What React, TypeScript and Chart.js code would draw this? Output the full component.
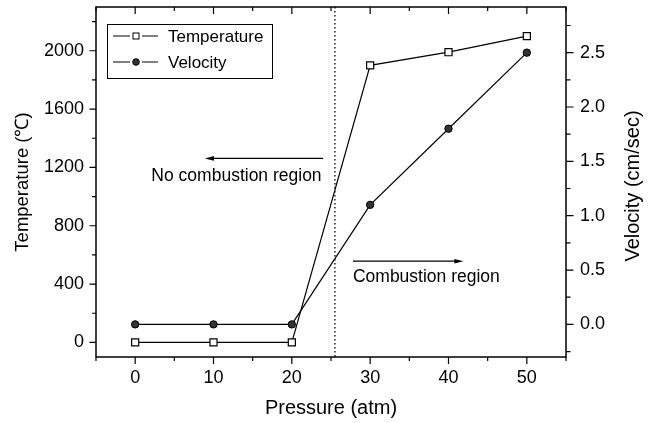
import React, { useEffect, useRef } from 'react';
import { Chart, registerables } from 'chart.js';

Chart.register(...registerables);

// ---- data ----
const pressure = [0, 10, 20, 30, 40, 50];
const temperature = [0, 0, 0, 1900, 1990, 2100];
const velocity = [0, 0, 0, 1.1, 1.8, 2.5];

// ---- tick labels ----
const xTickValues = [0, 10, 20, 30, 40, 50];
const tempTickValues = [0, 400, 800, 1200, 1600, 2000];
const velTickValues = [0, 0.5, 1.0, 1.5, 2.0, 2.5];

// ---- axis titles ----
const xTitle = 'Pressure (atm)';
const yTitle = 'Temperature (℃)';
const y1Title = 'Velocity (cm/sec)';

// ---- annotations (data coordinates) ----
const dividerPressure = 25.5;
const noCombText = 'No combustion region';
const noCombArrowFrom = 24.0;
const noCombArrowTo = 8.9;
const noCombArrowTemp = 1262;
const noCombTextRight = 23.8;
const noCombTextTemp = 1141;
const combText = 'Combustion region';
const combArrowFrom = 27.8;
const combArrowTo = 41.9;
const combArrowTemp = 557;
const combTextLeft = 27.8;
const combTextTemp = 447;

const FONT = '"Liberation Sans", Arial, Helvetica, sans-serif';

function tickSet(scale: any, majors: number[]) {
  const step = (majors[1] - majors[0]) / 2;
  const out: { v: number; major: boolean }[] = [];
  let v = majors[0];
  while (v - step >= scale.min - 1e-9) v -= step;
  for (; v <= scale.max + 1e-9; v += step) {
    const major = majors.some((m) => Math.abs(m - v) < step / 100);
    out.push({ v, major });
  }
  return out;
}

function arrow(ctx: CanvasRenderingContext2D, x1: number, x2: number, y: number) {
  const dir = Math.sign(x2 - x1);
  const headLen = 9;
  const headHalf = 2.3;
  ctx.beginPath();
  ctx.moveTo(x1, y);
  ctx.lineTo(x2 - dir * headLen * 0.6, y);
  ctx.stroke();
  ctx.beginPath();
  ctx.moveTo(x2, y);
  ctx.lineTo(x2 - dir * headLen, y - headHalf);
  ctx.lineTo(x2 - dir * headLen, y + headHalf);
  ctx.closePath();
  ctx.fill();
}

const decorPlugin = {
  id: 'decor',
  afterDraw(chart: any) {
    const ctx: CanvasRenderingContext2D = chart.ctx;
    const { left, right, top, bottom } = chart.chartArea;
    const xs = chart.scales.x;
    const ys = chart.scales.y;
    const y1 = chart.scales.y1;
    ctx.save();
    ctx.strokeStyle = '#000';
    ctx.fillStyle = '#000';

    // frame
    ctx.lineWidth = 1.5;
    ctx.strokeRect(left, top, right - left, bottom - top);

    // ticks
    ctx.lineWidth = 1.2;
    ctx.beginPath();
    for (const t of tickSet(xs, xTickValues)) {
      const px = xs.getPixelForValue(t.v);
      const len = t.major ? 7 : 4;
      ctx.moveTo(px, bottom);
      ctx.lineTo(px, bottom + len);
      ctx.moveTo(px, top);
      ctx.lineTo(px, top + len);
    }
    for (const t of tickSet(ys, tempTickValues)) {
      const py = ys.getPixelForValue(t.v);
      const len = t.major ? 6.5 : 4;
      ctx.moveTo(left, py);
      ctx.lineTo(left - len, py);
    }
    for (const t of tickSet(y1, velTickValues)) {
      const py = y1.getPixelForValue(t.v);
      const len = t.major ? 7.5 : 4.5;
      ctx.moveTo(right, py);
      ctx.lineTo(right + len, py);
    }
    ctx.stroke();

    // dotted divider
    const dx = xs.getPixelForValue(dividerPressure);
    ctx.lineWidth = 1.3;
    ctx.setLineDash([1.5, 2.5]);
    ctx.beginPath();
    ctx.moveTo(dx, top);
    ctx.lineTo(dx, bottom);
    ctx.stroke();
    ctx.setLineDash([]);

    // arrows
    ctx.lineWidth = 1.3;
    arrow(ctx, xs.getPixelForValue(noCombArrowFrom), xs.getPixelForValue(noCombArrowTo), ys.getPixelForValue(noCombArrowTemp));
    arrow(ctx, xs.getPixelForValue(combArrowFrom), xs.getPixelForValue(combArrowTo), ys.getPixelForValue(combArrowTemp));

    // annotation texts
    ctx.font = `17.5px ${FONT}`;
    ctx.textBaseline = 'middle';
    ctx.textAlign = 'right';
    ctx.fillText(noCombText, xs.getPixelForValue(noCombTextRight), ys.getPixelForValue(noCombTextTemp));
    ctx.textAlign = 'left';
    ctx.fillText(combText, xs.getPixelForValue(combTextLeft), ys.getPixelForValue(combTextTemp));

    // right axis title (reads bottom to top, like the left one)
    ctx.save();
    ctx.font = `20px ${FONT}`;
    ctx.textAlign = 'center';
    ctx.textBaseline = 'middle';
    ctx.translate(right + 67, (top + bottom) / 2 + 4);
    ctx.rotate(-Math.PI / 2);
    ctx.fillText(y1Title, 0, 0);
    ctx.restore();

    // legend
    const bx = left + 11;
    const by = top + 17;
    const bw = 165;
    const bh = 54;
    ctx.lineWidth = 1;
    ctx.strokeRect(bx + 0.5, by + 0.5, bw, bh);
    const rows = chart.data.datasets.map((ds: any, i: number) => ({ ds, y: by + 12 + i * 26 }));
    ctx.font = `17px ${FONT}`;
    ctx.textAlign = 'left';
    ctx.textBaseline = 'middle';
    for (const { ds, y } of rows) {
      const lx1 = bx + 6;
      const lx2 = bx + 51;
      const mx = bx + 29;
      ctx.lineWidth = 1;
      ctx.beginPath();
      ctx.moveTo(lx1, y);
      ctx.lineTo(mx - 6, y);
      ctx.moveTo(mx + 6, y);
      ctx.lineTo(lx2, y);
      ctx.stroke();
      if (ds.pointStyle === 'rect') {
        ctx.fillStyle = '#fff';
        ctx.fillRect(mx - 3, y - 3, 6, 6);
        ctx.strokeRect(mx - 3, y - 3, 6, 6);
      } else {
        ctx.fillStyle = ds.pointBackgroundColor;
        ctx.beginPath();
        ctx.arc(mx, y, 3.3, 0, Math.PI * 2);
        ctx.fill();
        ctx.stroke();
      }
      ctx.fillStyle = '#000';
      ctx.fillText(ds.label, bx + 61, y + 1);
    }
    ctx.restore();
  },
};

export default function App() {
  const canvasRef = useRef<HTMLCanvasElement | null>(null);

  useEffect(() => {
    document.body.style.margin = '0';
    const canvas = canvasRef.current;
    if (!canvas) return;
    const tickFont = { family: FONT, size: 18 };
    const zeroPad = (s: any) => {
      s.paddingTop = 0;
      s.paddingBottom = 0;
      s.paddingLeft = 0;
      s.paddingRight = 0;
    };
    const chart = new Chart(canvas, {
      type: 'line',
      data: {
        datasets: [
          {
            label: 'Temperature',
            data: pressure.map((p, i) => ({ x: p, y: temperature[i] })),
            yAxisID: 'y',
            borderColor: '#000',
            borderWidth: 1.2,
            pointStyle: 'rect',
            pointRadius: 5,
            pointBackgroundColor: '#fff',
            pointBorderColor: '#000',
            pointBorderWidth: 1.2,
            tension: 0,
          },
          {
            label: 'Velocity',
            data: pressure.map((p, i) => ({ x: p, y: velocity[i] })),
            yAxisID: 'y1',
            borderColor: '#000',
            borderWidth: 1.2,
            pointStyle: 'circle',
            pointRadius: 3.7,
            pointBackgroundColor: '#333',
            pointBorderColor: '#000',
            pointBorderWidth: 1,
            tension: 0,
          },
        ],
      },
      options: {
        animation: false,
        responsive: true,
        maintainAspectRatio: false,
        layout: { padding: { top: 7, left: 0, right: 0, bottom: 0 } },
        plugins: { legend: { display: false }, tooltip: { enabled: false } },
        scales: {
          x: {
            type: 'linear',
            position: 'bottom',
            min: -5,
            max: 55,
            grid: { display: false, drawTicks: false },
            border: { display: false },
            afterBuildTicks: (s: any) => {
              s.ticks = xTickValues.map((v) => ({ value: v }));
            },
            afterFit: (s: any) => {
              s.height = 66;
              zeroPad(s);
            },
            ticks: {
              font: tickFont,
              color: '#000',
              padding: 10,
              maxRotation: 0,
              autoSkip: false,
              callback: (v: any) => String(v),
            },
            title: {
              display: true,
              text: xTitle,
              font: { family: FONT, size: 20 },
              color: '#000',
              padding: { top: 0, bottom: 3 },
            },
          },
          y: {
            type: 'linear',
            position: 'left',
            min: -100,
            max: 2300,
            grid: { display: false, drawTicks: false },
            border: { display: false },
            afterBuildTicks: (s: any) => {
              s.ticks = tempTickValues.map((v) => ({ value: v }));
            },
            afterFit: (s: any) => {
              s.width = 96;
              zeroPad(s);
            },
            ticks: {
              font: tickFont,
              color: '#000',
              padding: 12,
              autoSkip: false,
              callback: (v: any) => String(v),
            },
            title: {
              display: true,
              text: yTitle,
              font: { family: FONT, size: 18.5 },
              color: '#000',
              padding: { top: 12, bottom: 0 },
            },
          },
          y1: {
            type: 'linear',
            position: 'right',
            min: -0.3,
            max: 2.92,
            grid: { display: false, drawTicks: false },
            border: { display: false },
            afterBuildTicks: (s: any) => {
              s.ticks = velTickValues.map((v) => ({ value: v }));
            },
            afterFit: (s: any) => {
              s.width = 85;
              zeroPad(s);
            },
            ticks: {
              font: tickFont,
              color: '#000',
              padding: 14,
              autoSkip: false,
              callback: (v: any) => Number(v).toFixed(1),
            },
            title: { display: false },
          },
        },
      },
      plugins: [decorPlugin],
    } as any);
    return () => chart.destroy();
  }, []);

  return (
    <div style={{ width: 651, height: 423, position: 'relative', background: '#fff' }}>
      <canvas ref={canvasRef} />
    </div>
  );
}
